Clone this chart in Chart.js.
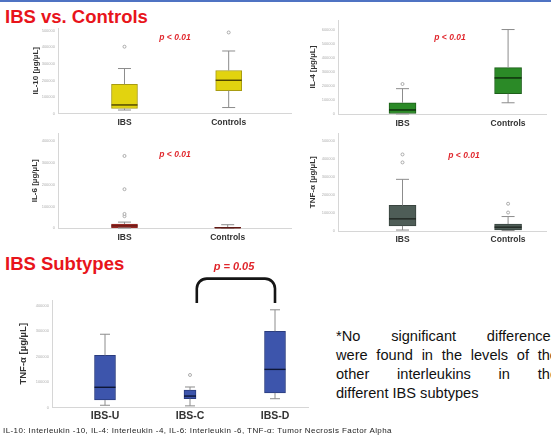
<!DOCTYPE html>
<html>
<head>
<meta charset="utf-8">
<script src="https://cdn.jsdelivr.net/npm/chart.js@4.4.0/dist/chart.umd.min.js"></script>
<style>
  body { margin: 0; width: 551px; height: 436px; overflow: hidden; background: #fff; position: relative;
         font-family: "Liberation Sans", Arial, sans-serif; }
  canvas { position: absolute; }
  .topbar { position: absolute; left: 0; top: 0; width: 551px; height: 2px; background: #4f73c3; }
  .head { position: absolute; left: 5px; color: #e8141b; font-weight: bold; font-size: 18.5px; white-space: nowrap; }
  .pval { position: absolute; color: #e0262c; font-weight: bold; font-style: italic; font-size: 8.5px;
          transform: translate(-50%, -50%); white-space: nowrap; }
  .note { position: absolute; left: 336px; top: 327px; width: 222px; font-size: 14.6px; line-height: 19px; color: #111; }
  .note div { text-align: justify; text-align-last: justify; white-space: nowrap; }
  .note div:last-child { text-align-last: left; }
  .caption { position: absolute; left: 3px; top: 426px; font-size: 8px; letter-spacing: 0.42px; color: #222; white-space: nowrap; }
</style>
</head>
<body>
<div class="topbar"></div>
<div class="head" style="top:6px">IBS vs. Controls</div>
<div class="head" style="top:253px">IBS Subtypes</div>

<canvas id="il10"></canvas>
<canvas id="il4"></canvas>
<canvas id="il6"></canvas>
<canvas id="tnf"></canvas>
<canvas id="subtypes"></canvas>

<div class="pval" style="left:175px;top:37px">p &lt; 0.01</div>
<div class="pval" style="left:450px;top:37px">p &lt; 0.01</div>
<div class="pval" style="left:175px;top:154px">p &lt; 0.01</div>
<div class="pval" style="left:464px;top:155px">p &lt; 0.01</div>
<div class="pval" style="left:234px;top:266px;font-size:11px">p = 0.05</div>

<div class="note">
  <div>*No significant differences</div>
  <div>were found in the levels of the</div>
  <div>other interleukins in the</div>
  <div>different IBS subtypes</div>
</div>
<div class="caption">IL-10: Interleukin -10, IL-4: Interleukin -4, IL-6: Interleukin -6, TNF-α: Tumor Necrosis Factor Alpha</div>

<script>
// ---------- data ----------
const vsLabels = ['IBS', 'Controls'];
const subtypeLabels = ['IBS-U', 'IBS-C', 'IBS-D'];

// each box: [min, q1, median, q3, max]
const il10Boxes = [[21000, 30500, 51700, 176000, 272000], [36000, 138000, 201000, 260000, 378000]];
const il10Outliers = [[404000], [490000]];
const il4Boxes = [[2000, 4700, 30000, 81000, 181000], [81000, 144700, 257000, 330000, 600000]];
const il4Outliers = [[214000], []];
const il6Boxes = [[1000, 1500, 10500, 19000, 28000], [300, 500, 2000, 4400, 16000]];
const il6Outliers = [[55000, 65400, 179000, 331500], []];
const tnfBoxes = [[5300, 28100, 67300, 141600, 286300], [2500, 5300, 21200, 38700, 80000]];
const tnfOutliers = [[380000, 424200], [102300, 151000]];
const subtypeBoxes = [[8800, 29500, 79400, 204400, 287600], [6400, 34500, 44900, 67900, 80500], [34500, 57500, 149600, 299100, 383500]];
const subtypeOutliers = [[], [127700], []];
const subtypeBoxWidths = [21, 12, 21];

const ticks400k = [0, 100000, 200000, 300000, 400000];
const ticks500k = [0, 100000, 200000, 300000, 400000, 500000];
const ticks600k = [0, 100000, 200000, 300000, 400000, 500000, 600000];

// significance bracket IBS-C .. IBS-D (x in category units, y in axis units)
const bracketX = [1.08, 2];
const bracketY = [410000, 506000];

Chart.defaults.font.family = '"Liberation Sans", Arial, sans-serif';

// ---------- box plot helper ----------
function boxChart(id, c) {
  const cv = document.getElementById(id);
  const [cx, cy, cw, ch] = c.canvas;
  const [l, t, r, b] = c.area;
  cv.width = cw; cv.height = ch;
  cv.style.left = cx + 'px'; cv.style.top = cy + 'px';

  const xMin = -(c.firstX - l) / c.unit;
  const xMax = (r - c.firstX) / c.unit;
  const xAxisH = c.catFont * 1.2 + c.catPad;

  const datasets = c.boxes.map((s, i) => ({
    type: 'bar',
    data: [{ x: i, y: [s[1], s[3]] }],
    barThickness: c.widths[i],
    grouped: false,
    backgroundColor: c.fill,
    borderColor: c.stroke,
    borderWidth: 1,
    borderSkipped: false
  }));
  const pts = [];
  c.outliers.forEach((arr, i) => arr.forEach(v => pts.push({ x: i, y: v })));
  datasets.push({
    type: 'line', data: pts, showLine: false,
    pointRadius: 1.5, pointBorderWidth: 0.8,
    pointBorderColor: '#999', pointBackgroundColor: '#fff'
  });

  const whiskers = {
    id: 'whiskers' + id,
    afterDatasetsDraw(chart) {
      const { ctx, scales: { x, y } } = chart;
      ctx.save();
      c.boxes.forEach((s, i) => {
        const px = x.getPixelForValue(i);
        const w = c.widths[i];
        ctx.strokeStyle = '#8c8c8c';
        ctx.lineWidth = 1;
        ctx.beginPath();
        ctx.moveTo(px, y.getPixelForValue(s[0])); ctx.lineTo(px, y.getPixelForValue(s[1]));
        ctx.moveTo(px, y.getPixelForValue(s[3])); ctx.lineTo(px, y.getPixelForValue(s[4]));
        ctx.moveTo(px - c.cap / 2, y.getPixelForValue(s[0])); ctx.lineTo(px + c.cap / 2, y.getPixelForValue(s[0]));
        ctx.moveTo(px - c.cap / 2, y.getPixelForValue(s[4])); ctx.lineTo(px + c.cap / 2, y.getPixelForValue(s[4]));
        ctx.stroke();
        ctx.strokeStyle = c.median;
        ctx.lineWidth = 1.4;
        ctx.beginPath();
        ctx.moveTo(px - w / 2, y.getPixelForValue(s[2])); ctx.lineTo(px + w / 2, y.getPixelForValue(s[2]));
        ctx.stroke();
      });
      ctx.restore();
    },
    afterDraw(chart) {
      if (!c.bracket) return;
      const { ctx, scales: { x, y } } = chart;
      const x1 = x.getPixelForValue(c.bracket.x[0]), x2 = x.getPixelForValue(c.bracket.x[1]);
      const yb = y.getPixelForValue(c.bracket.y[0]), yt = y.getPixelForValue(c.bracket.y[1]);
      const rad = 10;
      ctx.save();
      ctx.strokeStyle = '#151515';
      ctx.lineWidth = 2.6;
      ctx.beginPath();
      ctx.moveTo(x1, yb);
      ctx.lineTo(x1, yt + rad);
      ctx.arcTo(x1, yt, x1 + rad, yt, rad);
      ctx.lineTo(x2 - rad, yt);
      ctx.arcTo(x2, yt, x2, yt + rad, rad);
      ctx.lineTo(x2, yb);
      ctx.stroke();
      ctx.restore();
    }
  };

  return new Chart(cv, {
    type: 'bar',
    data: { datasets },
    plugins: [whiskers],
    options: {
      responsive: false,
      animation: false,
      layout: { padding: { left: 0, top: t - cy, right: cx + cw - r, bottom: cy + ch - b - xAxisH } },
      plugins: { legend: { display: false }, tooltip: { enabled: false } },
      scales: {
        x: {
          type: 'linear', offset: false, min: xMin, max: xMax,
          afterBuildTicks: s => { s.ticks = c.labels.map((_, i) => ({ value: i })); },
          ticks: { callback: v => c.labels[v], font: { size: c.catFont, weight: 'bold' }, color: '#333',
                   padding: c.catPad, maxRotation: 0, autoSkip: false },
          grid: { display: false, drawTicks: false },
          border: { display: true, color: '#d6d6d6' }
        },
        y: {
          min: 0, max: c.yMax,
          afterBuildTicks: s => { s.ticks = c.yTicks.map(v => ({ value: v })); },
          afterFit: s => { s.width = l - cx; },
          ticks: { font: { size: 4 }, color: '#b0b0b0', padding: 3, callback: v => String(v) },
          grid: { display: false, drawTicks: false },
          border: { display: true, color: '#d6d6d6' },
          title: { display: true, text: c.yTitle, color: '#333',
                   font: { size: c.titleSize, weight: 'bold' },
                   padding: { top: c.titleX - cx - c.titleSize * 0.6, bottom: 0 } }
        }
      }
    }
  });
}

// ---------- charts ----------
boxChart('il10', {
  canvas: [0, 18, 296, 125], area: [58, 28, 293, 118],
  labels: vsLabels, boxes: il10Boxes, outliers: il10Outliers, widths: [26, 26], cap: 13,
  firstX: 125, unit: 105, yMax: 517000, yTicks: ticks500k,
  fill: '#e2d30f', stroke: '#a89c12', median: '#4a4000',
  yTitle: 'IL-10 [µg/µL]', titleSize: 8, titleX: 36, catFont: 8.5, catPad: 4.5
});

boxChart('il4', {
  canvas: [280, 10, 271, 133], area: [338, 20, 551, 118.7],
  labels: vsLabels, boxes: il4Boxes, outliers: il4Outliers, widths: [27, 27], cap: 13,
  firstX: 404, unit: 108, yMax: 667600, yTicks: ticks600k,
  fill: '#2b8a27', stroke: '#1d5f1a', median: '#0d2a0b',
  yTitle: 'IL-4 [µg/µL]', titleSize: 8, titleX: 313, catFont: 8.5, catPad: 4.5
});

boxChart('il6', {
  canvas: [0, 128, 296, 125], area: [58, 133, 293, 232.7],
  labels: vsLabels, boxes: il6Boxes, outliers: il6Outliers, widths: [26, 26], cap: 13,
  firstX: 125, unit: 104, yMax: 435000, yTicks: ticks400k,
  fill: '#c23a32', stroke: '#8a2520', median: '#5a1511',
  yTitle: 'IL-6 [µg/µL]', titleSize: 8, titleX: 35, catFont: 8.5, catPad: 4.5
});

boxChart('tnf', {
  canvas: [280, 128, 271, 125], area: [338, 133, 551, 235],
  labels: vsLabels, boxes: tnfBoxes, outliers: tnfOutliers, widths: [27, 27], cap: 13,
  firstX: 404, unit: 108, yMax: 540800, yTicks: ticks500k,
  fill: '#4e5d57', stroke: '#39443f', median: '#1f2622',
  yTitle: 'TNF-α [µg/µL]', titleSize: 8, titleX: 313, catFont: 8.5, catPad: 4
});

boxChart('subtypes', {
  canvas: [0, 262, 320, 168], area: [52, 300, 308, 410],
  labels: subtypeLabels, boxes: subtypeBoxes, outliers: subtypeOutliers, widths: subtypeBoxWidths, cap: 10,
  firstX: 105, unit: 85, yMax: 422000, yTicks: ticks400k,
  fill: '#3d55ac', stroke: '#2a3c7e', median: '#0e1636',
  yTitle: 'TNF-α [µg/µL]', titleSize: 9.5, titleX: 23, catFont: 10.5, catPad: 2.5,
  bracket: { x: bracketX, y: bracketY }
});
</script>
</body>
</html>
